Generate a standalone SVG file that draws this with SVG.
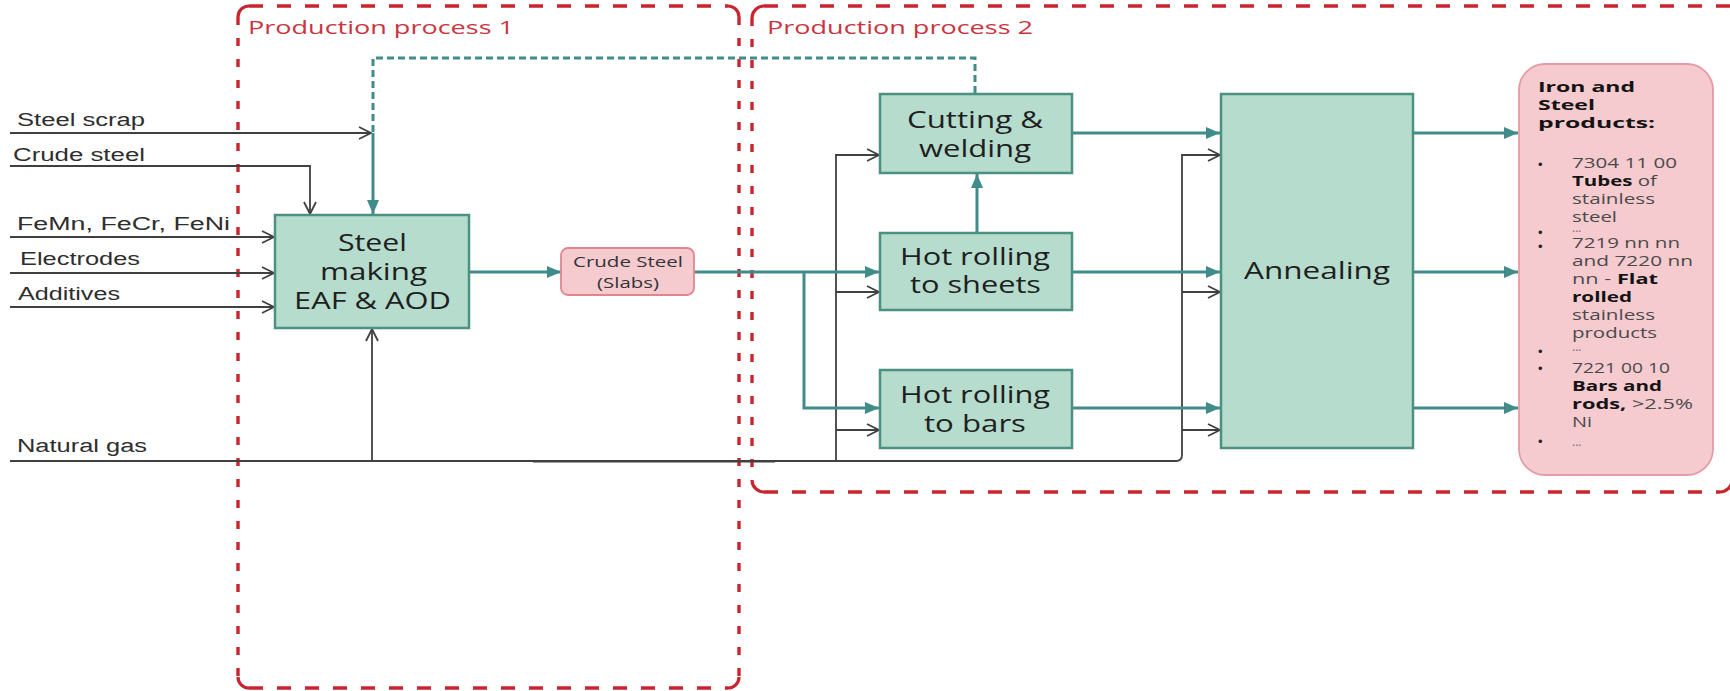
<svg xmlns="http://www.w3.org/2000/svg" width="1730" height="691" viewBox="0 0 1730 691">
  <defs>
    <style>
      .frame-h { fill: none; stroke: #c9252f; stroke-width: 3.6; stroke-dasharray: 14 14; }
      .frame-v { fill: none; stroke: #c9252f; stroke-width: 3.4; stroke-dasharray: 8 13; }
      .frame-c { fill: none; stroke: #c9252f; stroke-width: 3.2; }
      .pp { font-family: "Open Sans", "Liberation Sans", sans-serif; font-size: 18px; fill: #c9353f; }
      .box { fill: #b5dccd; stroke: #4b9080; stroke-width: 2.5; }
      .pink { fill: #f5cbcf; stroke: #e0868f; stroke-width: 1.8; }
      .pink-big { fill: #f5cbd0; stroke: #e59ba4; stroke-width: 1.8; }
      .node { font-family: "Open Sans", "Liberation Sans", sans-serif; font-size: 23px; fill: #1f1f1f; }
      .small { font-family: "Open Sans", "Liberation Sans", sans-serif; font-size: 15px; fill: #333333; }
      .lbl { font-family: "Liberation Sans", Arial, sans-serif; font-size: 18px; fill: #2e2e2e; }
      .flow { fill: none; stroke: #3f8c8a; stroke-width: 3; }
      .loop { fill: none; stroke: #3f8c8a; stroke-width: 3; stroke-dasharray: 7 4; }
      .feed { fill: none; stroke: #404040; stroke-width: 1.8; }
      .prod { font-family: "Open Sans", "Liberation Sans", sans-serif; font-size: 15px; fill: #4a4a4a; }
      .b { font-weight: bold; fill: #141414; }
      .dots { font-family: "Open Sans", "Liberation Sans", sans-serif; font-size: 12px; fill: #6e6e6e; }
      .bul { font-family: "Liberation Sans", Arial, sans-serif; font-size: 13px; fill: #222; }
    </style>
    <marker id="solid" viewBox="0 0 14 12" refX="14" refY="6" markerWidth="14" markerHeight="12" markerUnits="userSpaceOnUse" orient="auto">
      <path d="M0,0 L14,6 L0,12 Z" fill="#3f8c8a"/>
    </marker>
    <marker id="open" viewBox="0 0 14 14" refX="13" refY="7" markerWidth="14" markerHeight="14" markerUnits="userSpaceOnUse" orient="auto">
      <path d="M1,1 L13,7 L1,13" fill="none" stroke="#404040" stroke-width="1.8"/>
    </marker>
  </defs>

  <rect width="1730" height="691" fill="#ffffff"/>

  <!-- Production process 1 frame -->
  <g id="pp1">
    <path class="frame-h" d="M249,6 H728"/>
    <path class="frame-h" d="M249,688 H728"/>
    <path class="frame-v" d="M238,17 V677"/>
    <path class="frame-v" d="M739,17 V677"/>
    <path class="frame-c" d="M238,17 A11,11 0 0 1 249,6"/>
    <path class="frame-c" d="M728,6 A11,11 0 0 1 739,17"/>
    <path class="frame-c" d="M238,677 A11,11 0 0 0 249,688"/>
    <path class="frame-c" d="M728,688 A11,11 0 0 0 739,677"/>
    <text class="pp" x="248" y="34" textLength="266" lengthAdjust="spacingAndGlyphs">Production process 1</text>
  </g>

  <!-- Production process 2 frame -->
  <g id="pp2">
    <path class="frame-h" d="M764,6 H1730"/>
    <path class="frame-h" d="M764,492 H1720"/>
    <path class="frame-v" d="M752,18 V480"/>
    <path class="frame-c" d="M752,18 A12,12 0 0 1 764,6"/>
    <path class="frame-c" d="M752,480 A12,12 0 0 0 764,492"/>
    <path class="frame-c" d="M1720,492 A12,12 0 0 0 1732,480"/>
    <text class="pp" x="767" y="34" textLength="266" lengthAdjust="spacingAndGlyphs">Production process 2</text>
  </g>

  <!-- Connectors -->
  <g id="connectors">
    <!-- external inputs -->
    <path class="feed" d="M10,133 H371" marker-end="url(#open)"/>
    <path class="feed" d="M10,166 H310 V214" marker-end="url(#open)"/>
    <path class="feed" d="M10,237 H274" marker-end="url(#open)"/>
    <path class="feed" d="M10,273 H274" marker-end="url(#open)"/>
    <path class="feed" d="M10,307 H274" marker-end="url(#open)"/>
    <path class="feed" d="M10,461 H1176 Q1182,461 1182,455 V155 H1220" marker-end="url(#open)"/>
    <path class="feed" d="M533,461.5 H775" stroke-width="2.6"/>
    <path class="feed" d="M372,461 V329" marker-end="url(#open)"/>
    <path class="feed" d="M836,461 V155 H879" marker-end="url(#open)"/>
    <path class="feed" d="M836,292 H879" marker-end="url(#open)"/>
    <path class="feed" d="M836,430 H879" marker-end="url(#open)"/>
    <path class="feed" d="M1182,292 H1220" marker-end="url(#open)"/>
    <path class="feed" d="M1182,430 H1220" marker-end="url(#open)"/>

    <!-- scrap return loop -->
    <path class="loop" d="M975,93 V58 H373 V133"/>
    <path class="flow" d="M373,133 V214" stroke-width="2.8" marker-end="url(#solid)"/>

    <!-- main material flow -->
    <path class="flow" d="M469,272 H561" marker-end="url(#solid)"/>
    <path class="flow" d="M694,272 H879" marker-end="url(#solid)"/>
    <path class="flow" d="M804,272 V408 H879" marker-end="url(#solid)"/>
    <path class="flow" d="M977,233 V174" marker-end="url(#solid)"/>
    <path class="flow" d="M1072,133 H1220" marker-end="url(#solid)"/>
    <path class="flow" d="M1072,272 H1220" marker-end="url(#solid)"/>
    <path class="flow" d="M1072,408 H1220" marker-end="url(#solid)"/>
    <path class="flow" d="M1413,133 H1518" marker-end="url(#solid)"/>
    <path class="flow" d="M1413,272 H1518" marker-end="url(#solid)"/>
    <path class="flow" d="M1413,408 H1518" marker-end="url(#solid)"/>

    <!-- input labels -->
    <text class="lbl" x="17" y="126" textLength="128" lengthAdjust="spacingAndGlyphs">Steel scrap</text>
    <text class="lbl" x="13" y="161" textLength="132" lengthAdjust="spacingAndGlyphs">Crude steel</text>
    <text class="lbl" x="17" y="230" textLength="213" lengthAdjust="spacingAndGlyphs">FeMn, FeCr, FeNi</text>
    <text class="lbl" x="20" y="265" textLength="120" lengthAdjust="spacingAndGlyphs">Electrodes</text>
    <text class="lbl" x="18" y="300" textLength="102" lengthAdjust="spacingAndGlyphs">Additives</text>
    <text class="lbl" x="17" y="452" textLength="130" lengthAdjust="spacingAndGlyphs">Natural gas</text>
  </g>

  <!-- Steel making -->
  <g id="steel-making">
    <rect class="box" x="275" y="215" width="194" height="113"/>
    <text class="node" x="338" y="251" textLength="69" lengthAdjust="spacingAndGlyphs">Steel</text>
    <text class="node" x="320" y="280" textLength="107" lengthAdjust="spacingAndGlyphs">making</text>
    <text class="node" x="294" y="309" textLength="157" lengthAdjust="spacingAndGlyphs">EAF &amp; AOD</text>
  </g>

  <!-- Crude steel (slabs) -->
  <g id="crude-steel">
    <rect class="pink" x="561" y="248" width="133" height="47" rx="7"/>
    <text class="small" x="573" y="267" textLength="110" lengthAdjust="spacingAndGlyphs">Crude Steel</text>
    <text class="small" x="597" y="288" textLength="62" lengthAdjust="spacingAndGlyphs">(Slabs)</text>
  </g>

  <!-- Cutting & welding -->
  <g id="cutting-welding">
    <rect class="box" x="880" y="94" width="192" height="79"/>
    <text class="node" x="907" y="128" textLength="136" lengthAdjust="spacingAndGlyphs">Cutting &amp;</text>
    <text class="node" x="919" y="157" textLength="112" lengthAdjust="spacingAndGlyphs">welding</text>
  </g>

  <!-- Hot rolling to sheets -->
  <g id="hot-rolling-sheets">
    <rect class="box" x="880" y="233" width="192" height="77"/>
    <text class="node" x="900" y="265" textLength="150" lengthAdjust="spacingAndGlyphs">Hot rolling</text>
    <text class="node" x="910" y="293" textLength="131" lengthAdjust="spacingAndGlyphs">to sheets</text>
  </g>

  <!-- Hot rolling to bars -->
  <g id="hot-rolling-bars">
    <rect class="box" x="880" y="370" width="192" height="78"/>
    <text class="node" x="900" y="403" textLength="150" lengthAdjust="spacingAndGlyphs">Hot rolling</text>
    <text class="node" x="924" y="432" textLength="102" lengthAdjust="spacingAndGlyphs">to bars</text>
  </g>

  <!-- Annealing -->
  <g id="annealing">
    <rect class="box" x="1221" y="94" width="192" height="354"/>
    <text class="node" x="1244" y="279" textLength="146" lengthAdjust="spacingAndGlyphs">Annealing</text>
  </g>

  <!-- Iron and steel products -->
  <g id="products">
    <rect class="pink-big" x="1519" y="64" width="194" height="411" rx="26"/>
    <text class="prod b" x="1538" y="92" font-size="16" textLength="97" lengthAdjust="spacingAndGlyphs">Iron and</text>
    <text class="prod b" x="1538" y="110" font-size="16" textLength="57" lengthAdjust="spacingAndGlyphs">Steel</text>
    <text class="prod b" x="1538" y="128" font-size="16" textLength="117" lengthAdjust="spacingAndGlyphs">products:</text>

    <text class="bul" x="1538" y="169">•</text>
    <text class="prod" x="1572" y="168" textLength="105" lengthAdjust="spacingAndGlyphs">7304 11 00</text>
    <text class="prod" x="1572" y="186" textLength="85" lengthAdjust="spacingAndGlyphs"><tspan class="b">Tubes</tspan> of</text>
    <text class="prod" x="1572" y="204" textLength="83" lengthAdjust="spacingAndGlyphs">stainless</text>
    <text class="prod" x="1572" y="222" textLength="45" lengthAdjust="spacingAndGlyphs">steel</text>

    <text class="bul" x="1538" y="237">•</text>
    <text class="dots" x="1572" y="232">...</text>
    <text class="bul" x="1538" y="251">•</text>
    <text class="prod" x="1572" y="248" textLength="108" lengthAdjust="spacingAndGlyphs">7219 nn nn</text>
    <text class="prod" x="1572" y="266" textLength="121" lengthAdjust="spacingAndGlyphs">and 7220 nn</text>
    <text class="prod" x="1572" y="284" textLength="86" lengthAdjust="spacingAndGlyphs">nn  - <tspan class="b">Flat</tspan></text>
    <text class="prod b" x="1572" y="302" textLength="60" lengthAdjust="spacingAndGlyphs">rolled</text>
    <text class="prod" x="1572" y="320" textLength="83" lengthAdjust="spacingAndGlyphs">stainless</text>
    <text class="prod" x="1572" y="338" textLength="85" lengthAdjust="spacingAndGlyphs">products</text>

    <text class="bul" x="1538" y="356">•</text>
    <text class="dots" x="1572" y="351">...</text>
    <text class="bul" x="1538" y="373">•</text>
    <text class="prod" x="1572" y="373" textLength="98" lengthAdjust="spacingAndGlyphs">7221 00 10</text>
    <text class="prod b" x="1572" y="391" textLength="90" lengthAdjust="spacingAndGlyphs">Bars and</text>
    <text class="prod" x="1572" y="409" textLength="121" lengthAdjust="spacingAndGlyphs"><tspan class="b">rods,</tspan> &gt;2.5%</text>
    <text class="prod" x="1572" y="427" textLength="20" lengthAdjust="spacingAndGlyphs">Ni</text>

    <text class="bul" x="1538" y="446">•</text>
    <text class="dots" x="1572" y="446">...</text>
  </g>
</svg>
